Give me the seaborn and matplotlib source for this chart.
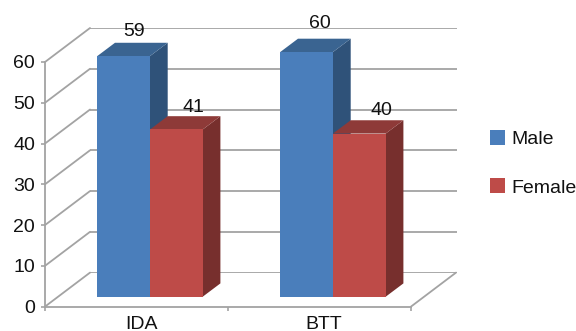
import matplotlib
matplotlib.use("Agg")
import matplotlib.pyplot as plt
import pandas as pd
import seaborn as sns

categories = ["IDA", "BTT"]
series_names = ["Male", "Female"]
male_values = [59, 60]
female_values = [41, 40]
y_ticks = [0, 10, 20, 30, 40, 50, 60]

FRONT = {"Male": "#4A7EBB", "Female": "#BE4B48"}
TOP = {"Male": "#3A6491", "Female": "#8E3A38"}
SIDE = {"Male": "#2F5279", "Female": "#772F2D"}
GRID = "#A3A3A3"
INK = "#111111"
FONT_SIZE = 14

W, H = 576, 331
sns.set_theme(style="white")
plt.rcParams["font.family"] = ["Liberation Sans", "DejaVu Sans"]
plt.rcParams["font.size"] = FONT_SIZE

fig = plt.figure(figsize=(W / 100, H / 100), dpi=100, facecolor="white")


def axes_px(left, right, top, bottom, **kw):
    """Add axes placed by pixel edges, measured from the top-left corner."""
    return fig.add_axes([left / W, 1 - bottom / H, (right - left) / W, (bottom - top) / H], **kw)


# Back wall with its horizontal gridlines
wall = axes_px(90, 457, 28, 272.7, zorder=1)
wall.set(xlim=(0, 2), ylim=(0, 60), yticks=y_ticks, xticks=[])
wall.tick_params(left=False, labelleft=False)
wall.grid(axis="y", color=GRID, lw=1.3)
wall.patch.set_alpha(0)
sns.despine(ax=wall, left=True, bottom=True)

# Front axis frame carrying the ticks and labels
front = axes_px(45, 411, 62, 306.6, zorder=2)
front.set(xlim=(0, 2), ylim=(0, 60))
front.patch.set_alpha(0)
front.set_yticks(y_ticks)
front.set_xticks([0, 1, 2])
front.set_xticklabels([])
front.set_xticks([0.525, 1.525], minor=True)
front.set_xticklabels(categories, minor=True)
front.tick_params(axis="x", which="major", bottom=True, length=3, width=1.2, color=GRID)
front.tick_params(axis="x", which="minor", bottom=False, pad=2.5, labelsize=FONT_SIZE, labelcolor=INK)
front.tick_params(axis="y", left=True, length=3, width=1.2, color=GRID, pad=4.2, labelsize=FONT_SIZE, labelcolor=INK)
sns.despine(ax=front)
for side in ("left", "bottom"):
    front.spines[side].set_color(GRID)
    front.spines[side].set_linewidth(1.3)

# Oblique lines joining the front axis to the back wall
dx_wall, dy_wall = 45 / 183, 34 / 4.077
for v in y_ticks:
    front.plot([0, dx_wall], [v, v + dy_wall], color=GRID, lw=1.3, clip_on=False)
front.plot([2, 2 + dx_wall], [0, dy_wall], color=GRID, lw=1.3, clip_on=False)

# Bars: the front faces come from seaborn, depth faces extend from them
bars = axes_px(58.5, 424.5, 52, 296.7, zorder=3)
table = pd.DataFrame({
    "category": categories * 2,
    "series": [series_names[0]] * 2 + [series_names[1]] * 2,
    "value": male_values + female_values,
})
sns.barplot(data=table, x="category", y="value", hue="series", ax=bars,
            palette=FRONT, saturation=1, width=0.576, gap=0, linewidth=0, zorder=5)
bars.set(xlim=(-0.5, 1.5), ylim=(0, 60))
bars.axis("off")

dx_bar, dy_bar = 17.7 / 183, 13.3 / 4.077
label_offsets = {("Male", 0): (10, 16.5), ("Female", 0): (17, 13.5),
                 ("Male", 1): (13, 19.5), ("Female", 1): (22.5, 14.5)}
for level, (name, container) in enumerate(zip(series_names, bars.containers)):
    for i, bar in enumerate(container):
        x0, x1, h = bar.get_x(), bar.get_x() + bar.get_width(), bar.get_height()
        bars.fill([x1, x1 + dx_bar, x1 + dx_bar, x1], [0, dy_bar, h + dy_bar, h],
                  color=SIDE[name], lw=0, clip_on=False, zorder=2 + level)
        bars.fill([x0, x0 + dx_bar, x1 + dx_bar, x1], [h, h + dy_bar, h + dy_bar, h],
                  color=TOP[name], lw=0, clip_on=False, zorder=2 + level)
        bar.set_clip_on(False)
        off_x, off_y = label_offsets[(name, i)]
        bars.annotate(f"{h:g}", (x0 + bar.get_width() / 2, h), xytext=(off_x * 0.72, off_y * 0.72),
                      textcoords="offset points", ha="center", va="bottom",
                      fontsize=FONT_SIZE, color=INK, annotation_clip=False, zorder=8)

handles, labels = bars.get_legend_handles_labels()
bars.legend(handles, labels, loc="upper left", bbox_to_anchor=(486 / W, 1 - 126 / H),
            bbox_transform=fig.transFigure, frameon=False, fontsize=FONT_SIZE,
            handlelength=0.8, handleheight=0.8, handletextpad=0.3,
            labelspacing=1.56, borderpad=0.2, borderaxespad=0, labelcolor=INK)

fig.savefig("out.png", dpi=100)
